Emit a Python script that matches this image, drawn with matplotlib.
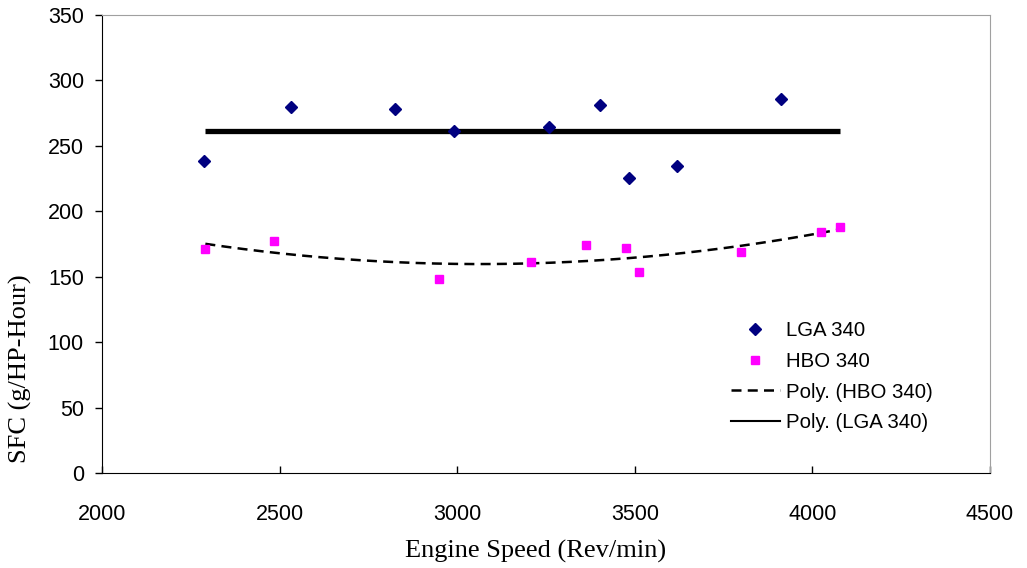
import numpy as np
import matplotlib.pyplot as plt
from matplotlib.lines import Line2D

# LGA 340 measurements
lga_speed = [2287, 2532, 2825, 2991, 3258, 3401, 3484, 3618, 3912]
lga_sfc = [238.4, 279.7, 278.2, 261.3, 264.7, 281.2, 225.7, 234.8, 285.6]

# HBO 340 measurements
hbo_speed = [2291, 2485, 2950, 3207, 3364, 3475, 3511, 3799, 4023, 4079]
hbo_sfc = [170.9, 177.3, 148.2, 161.0, 174.5, 172.2, 153.3, 168.6, 183.9, 188.0]

xticks = [2000, 2500, 3000, 3500, 4000, 4500]
yticks = [0, 50, 100, 150, 200, 250, 300, 350]

plt.rcParams['font.family'] = ['Liberation Sans', 'DejaVu Sans']

fig = plt.figure(figsize=(10.27, 5.68), dpi=100)
ax = fig.add_axes([102/1027, 1 - 473/568, 888/1027, 458/568])

# trend lines (excel-style polynomial fits)
x_fit = np.linspace(min(hbo_speed), max(hbo_speed), 200)
p_hbo = np.polyfit(hbo_speed, hbo_sfc, 2)
p_lga = np.polyfit(lga_speed, lga_sfc, 0)
ax.plot(x_fit, np.polyval(p_lga, x_fit), color='black', lw=3.8, solid_capstyle='butt', zorder=2)
ax.plot(x_fit, np.polyval(p_hbo, x_fit), color='black', lw=1.8, dashes=(4, 2.5), zorder=2)

ax.plot(lga_speed, lga_sfc, 'D', color='#000080', ms=6, ls='none', zorder=3)
ax.plot(hbo_speed, hbo_sfc, 's', color='#FF00FF', ms=5.5, ls='none', zorder=3)

ax.set_xlim(2000, 4500)
ax.set_ylim(0, 350)
ax.set_xticks(xticks)
ax.set_yticks(yticks)
ax.tick_params(axis='y', direction='out', length=5, width=1, labelsize=15.5, pad=8)
ax.tick_params(axis='x', direction='in', length=5, width=1, labelsize=15.5, pad=22)
for s in ['top', 'right']:
    ax.spines[s].set_color('#a0a0a0')
for s in ['left', 'bottom']:
    ax.spines[s].set_color('black')

ax.set_xlabel('Engine Speed (Rev/min)', family='Liberation Serif', fontsize=19)
ax.set_ylabel('SFC (g/HP-Hour)', family='Liberation Serif', fontsize=19)
ax.xaxis.set_label_coords(0.488, -0.145)
ax.yaxis.set_label_coords(-0.079, 0.227)

handles = [
    Line2D([], [], marker='D', color='#000080', ms=6, ls='none'),
    Line2D([], [], marker='s', color='#FF00FF', ms=5.5, ls='none'),
    Line2D([], [], color='black', lw=1.8, dashes=(4, 2.5)),
    Line2D([], [], color='black', lw=1.5),
]
labels = ['LGA 340', 'HBO 340', 'Poly. (HBO 340)', 'Poly. (LGA 340)']
ax.legend(handles, labels, loc='upper left', bbox_to_anchor=(0.699, 0.35),
          frameon=False, fontsize=14.7, handlelength=2.4, labelspacing=0.58,
          handletextpad=0.3, borderaxespad=0)

fig.savefig('out.png', dpi=100)
